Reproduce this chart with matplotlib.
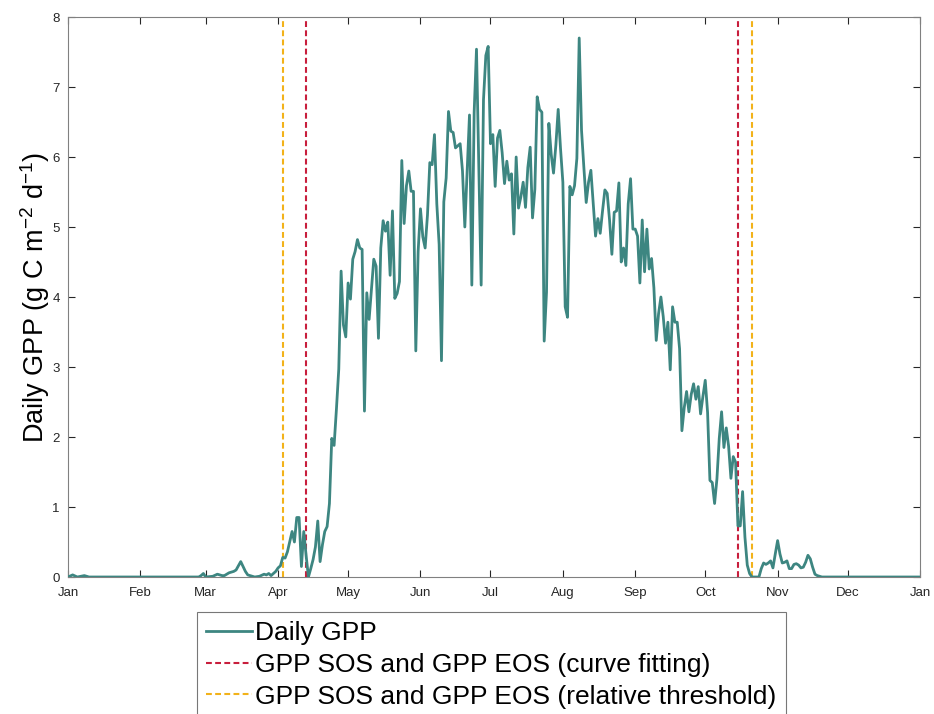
import matplotlib
matplotlib.use("Agg")
import matplotlib.pyplot as plt

plt.rcParams['font.family'] = ['Liberation Sans', 'DejaVu Sans']
plt.rcParams['mathtext.fontset'] = 'custom'
plt.rcParams['mathtext.rm'] = 'Liberation Sans'
plt.rcParams['mathtext.default'] = 'regular'
plt.rcParams['axes.unicode_minus'] = False

# day of year (0 = 1 Jan) and daily GPP (g C m-2 d-1)
gpp_day = [0, 2, 4, 7, 9, 56, 57, 58, 59, 62, 64, 66, 67, 69, 71, 72, 74, 76, 77, 80,
           82, 84, 85, 86, 87, 89, 90, 91, 92, 93, 94, 96, 97, 98, 99, 100, 101, 102,
           103, 104, 105, 106, 107, 108, 109, 110, 111, 112, 113, 114, 115, 116, 117,
           118, 119, 120, 121, 122, 123, 124, 125, 126, 127, 128, 129, 130, 131, 132,
           133, 134, 135, 136, 137, 138, 139, 140, 141, 142, 143, 144, 145, 146, 147,
           148, 149, 150, 151, 152, 153, 154, 155, 156, 157, 158, 159, 160, 161, 162,
           163, 164, 165, 166, 167, 168, 169, 170, 171, 172, 173, 174, 175, 177, 178,
           179, 180, 181, 182, 183, 184, 185, 186, 187, 188, 189, 190, 191, 192, 193,
           194, 195, 196, 197, 198, 199, 200, 201, 202, 203, 204, 205, 206, 207, 208,
           209, 210, 211, 212, 213, 214, 215, 216, 217, 218, 219, 220, 221, 222, 223,
           224, 225, 226, 227, 228, 229, 230, 231, 232, 233, 234, 235, 236, 237, 238,
           239, 240, 241, 242, 243, 244, 245, 246, 247, 248, 249, 250, 251, 252, 253,
           254, 255, 256, 257, 258, 259, 260, 261, 262, 263, 264, 265, 266, 267, 268,
           269, 270, 271, 272, 273, 274, 275, 276, 277, 278, 279, 280, 281, 282, 283,
           284, 285, 286, 287, 288, 289, 290, 291, 292, 293, 296, 297, 298, 299, 300,
           301, 302, 303, 304, 305, 306, 307, 308, 309, 310, 311, 312, 313, 314, 315,
           316, 317, 318, 319, 320, 321, 323, 365]
gpp_value = [0.0, 0.03, 0.0, 0.02, 0.0, 0.0, 0.02, 0.05, 0.0, 0.01, 0.04, 0.02, 0.02,
             0.06, 0.08, 0.1, 0.22, 0.08, 0.03, 0.0, 0.01, 0.04, 0.03, 0.05, 0.02, 0.08,
             0.13, 0.16, 0.28, 0.27, 0.36, 0.65, 0.5, 0.85, 0.85, 0.15, 0.65, 0.31, 0.0,
             0.12, 0.25, 0.43, 0.8, 0.22, 0.46, 0.65, 0.72, 1.05, 1.98, 1.88, 2.4, 2.97,
             4.37, 3.6, 3.43, 4.2, 3.97, 4.54, 4.65, 4.82, 4.7, 4.68, 2.37, 4.06, 3.68,
             4.1, 4.54, 4.44, 3.41, 4.7, 5.09, 4.94, 5.07, 4.31, 5.23, 3.98, 4.05, 4.22,
             5.95, 5.05, 5.59, 5.8, 5.51, 5.51, 3.23, 4.65, 5.26, 4.86, 4.7, 5.17, 5.92,
             5.89, 6.32, 5.33, 4.75, 3.09, 5.36, 5.7, 6.65, 6.37, 6.35, 6.13, 6.16, 6.19,
             5.8, 5.0, 5.8, 6.6, 4.17, 6.64, 7.54, 4.17, 6.82, 7.45, 7.58, 6.19, 6.32,
             5.58, 6.27, 6.38, 6.06, 5.62, 5.94, 5.67, 5.76, 4.9, 6.0, 5.27, 5.43, 5.64,
             5.28, 5.85, 6.14, 5.13, 5.54, 6.86, 6.68, 6.64, 3.37, 4.07, 6.48, 6.04, 5.77,
             6.17, 6.68, 6.12, 5.64, 3.86, 3.71, 5.58, 5.46, 5.59, 5.98, 7.7, 6.38, 5.85,
             5.35, 5.64, 5.81, 5.33, 4.87, 5.12, 4.91, 5.23, 5.53, 5.48, 5.1, 4.61, 5.21,
             5.23, 5.63, 4.5, 4.7, 4.45, 5.33, 5.69, 4.97, 4.97, 4.87, 4.2, 5.1, 4.36,
             4.97, 4.4, 4.55, 4.13, 3.38, 3.76, 4.0, 3.72, 3.34, 3.64, 2.96, 3.86, 3.64,
             3.64, 3.26, 2.09, 2.42, 2.65, 2.36, 2.61, 2.76, 2.54, 2.72, 2.33, 2.58, 2.81,
             2.35, 1.38, 1.35, 1.05, 1.4, 1.98, 2.36, 1.85, 2.13, 1.87, 1.41, 1.72, 1.64,
             0.73, 0.73, 1.22, 0.57, 0.17, 0.05, 0.0, 0.0, 0.12, 0.2, 0.18, 0.2, 0.23,
             0.13, 0.33, 0.52, 0.33, 0.2, 0.21, 0.23, 0.12, 0.12, 0.18, 0.19, 0.17, 0.13,
             0.14, 0.21, 0.31, 0.26, 0.14, 0.04, 0.02, 0.0, 0.0]

# start / end of season
sos_eos_fit = [102, 287]
sos_eos_threshold = [92, 293]

month_starts = [0, 31, 59, 90, 120, 151, 181, 212, 243, 273, 304, 334, 365]
month_labels = ['Jan', 'Feb', 'Mar', 'Apr', 'May', 'Jun', 'Jul', 'Aug', 'Sep',
                'Oct', 'Nov', 'Dec', 'Jan']

fig = plt.figure(figsize=(9.34, 7.14), dpi=100)
ax = fig.add_axes([68 / 934, 1 - 577 / 714, 852 / 934, 560 / 714])

ax.plot(gpp_day, gpp_value, color='#3d8681', lw=2, label='Daily GPP', zorder=3)
for i, d in enumerate(sos_eos_fit):
    ax.axvline(d, color='#c81e3c', lw=1.5, ls=(0, (2.8, 1.6)), zorder=2,
               label='GPP SOS and GPP EOS (curve fitting)' if i == 0 else None)
for i, d in enumerate(sos_eos_threshold):
    ax.axvline(d, color='#f2b21a', lw=1.5, ls=(0, (2.8, 1.6)), zorder=2,
               label='GPP SOS and GPP EOS (relative threshold)' if i == 0 else None)

ax.set_xlim(0, 365)
ax.set_ylim(0, 8)
ax.set_xticks(month_starts)
ax.set_xticklabels(month_labels)
ax.set_yticks(range(0, 9))
ax.tick_params(direction='in', length=5, width=0.8, colors='#262626',
               labelsize=9.5, top=True, right=True)
ax.tick_params(axis='x', pad=7)
ax.tick_params(axis='y', pad=6)
for s in ax.spines.values():
    s.set_color('#808080')
    s.set_linewidth(0.8)

ax.set_ylabel('Daily GPP (g C m$^{-2}$ d$^{-1}$)', fontsize=19.5, labelpad=0)

leg = fig.legend(loc='upper left', bbox_to_anchor=(197 / 934, 1 - 612 / 714),
                 fontsize=19, frameon=True, fancybox=False, edgecolor='#555555',
                 handlelength=1.75, handletextpad=0.1, borderpad=0.35,
                 labelspacing=0.29, borderaxespad=0)
leg.get_frame().set_linewidth(0.8)

fig.savefig('out.png', dpi=100)
